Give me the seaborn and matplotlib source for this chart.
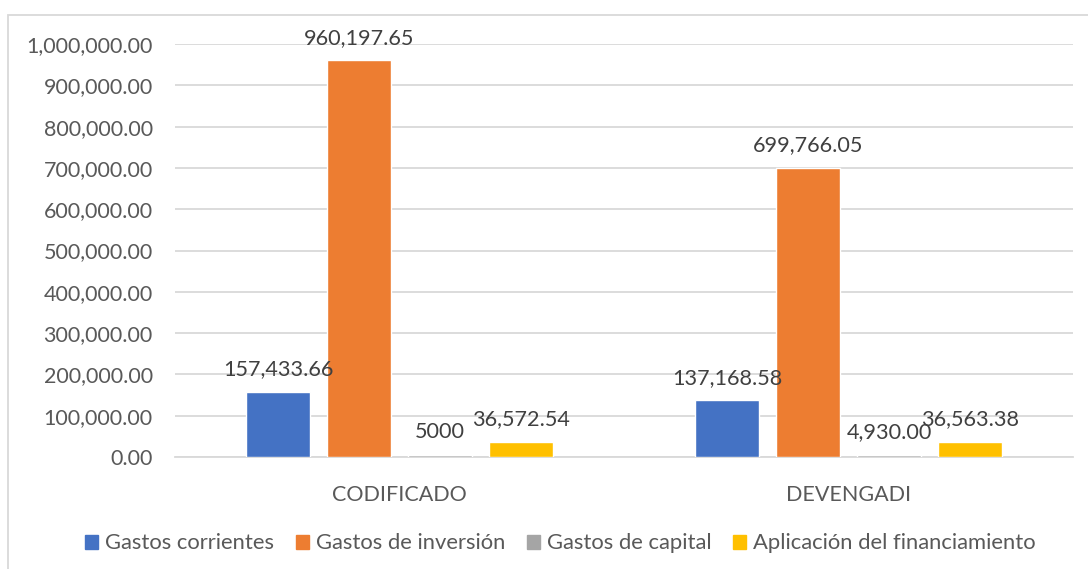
import pandas as pd
import matplotlib.pyplot as plt
import matplotlib.patches as mpatches
import seaborn as sns

categories = ["CODIFICADO", "DEVENGADI"]
series = ["Gastos corrientes", "Gastos de inversión", "Gastos de capital",
          "Aplicación del financiamiento"]
codificado = [157433.66, 960197.65, 5000, 36572.54]
devengadi = [137168.58, 699766.05, 4930.00, 36563.38]
labels_codificado = ["157,433.66", "960,197.65", "5000", "36,572.54"]
labels_devengadi = ["137,168.58", "699,766.05", "4,930.00", "36,563.38"]
colors = ["#4472C4", "#ED7D31", "#A5A5A5", "#FFC000"]
yticks = list(range(0, 1000001, 100000))

text_color = "#595959"
grid_color = "#D9D9D9"

rows = []
for cat, vals in zip(categories, [codificado, devengadi]):
    for s, v in zip(series, vals):
        rows.append({"Categoria": cat, "Serie": s, "Valor": v})
df = pd.DataFrame(rows)

sns.set_style("white")
plt.rcParams["font.family"] = ["Lato", "DejaVu Sans"]

fig = plt.figure(figsize=(10.88, 5.69), dpi=100)
ax = fig.add_axes([175 / 1088, 112 / 569, 898 / 1088, 413 / 569])

sns.barplot(data=df, x="Categoria", y="Valor", hue="Serie", order=categories,
            hue_order=series, palette=colors, width=0.722, gap=0.22,
            saturation=1, ax=ax, legend=False)

ax.set_xlim(-0.5, 1.5)
ax.set_ylim(0, 1000000)
ax.set_yticks(yticks)
ax.set_yticklabels([f"{t:,.2f}" for t in yticks])
ax.yaxis.grid(True, color=grid_color, linewidth=1.3)
ax.set_axisbelow(True)
for side in ["top", "right", "left"]:
    ax.spines[side].set_visible(False)
ax.spines["bottom"].set_color(grid_color)
ax.spines["bottom"].set_linewidth(1.3)
ax.spines["bottom"].set_zorder(0.6)
ax.tick_params(axis="both", length=0, labelsize=15.5, colors=text_color)
ax.tick_params(axis="y", pad=16)
ax.tick_params(axis="x", pad=20)
ax.set_xlabel("")
ax.set_ylabel("")

# data labels, one container per series
all_labels = list(zip(labels_codificado, labels_devengadi))
for container, labs in zip(ax.containers, all_labels):
    ax.bar_label(container, labels=list(labs), padding=9, fontsize=15.6,
                 color="#404040")

handles = [mpatches.Patch(color=c, label=s) for c, s in zip(colors, series)]
fig.legend(handles=handles, loc="center", bbox_to_anchor=(0.515, 0.045),
           ncol=4, frameon=False, fontsize=15.8, handlelength=0.6,
           handleheight=0.6, handletextpad=0.3, columnspacing=1.0,
           labelcolor=text_color)

# chart area border (cropped at right and bottom)
fig.patches.append(mpatches.Rectangle((8 / 1088, -0.1), 1.2, 0.1 + 554 / 569,
                                      transform=fig.transFigure, fill=False,
                                      edgecolor=grid_color, linewidth=1.3))

fig.savefig("out.png", dpi=100)
